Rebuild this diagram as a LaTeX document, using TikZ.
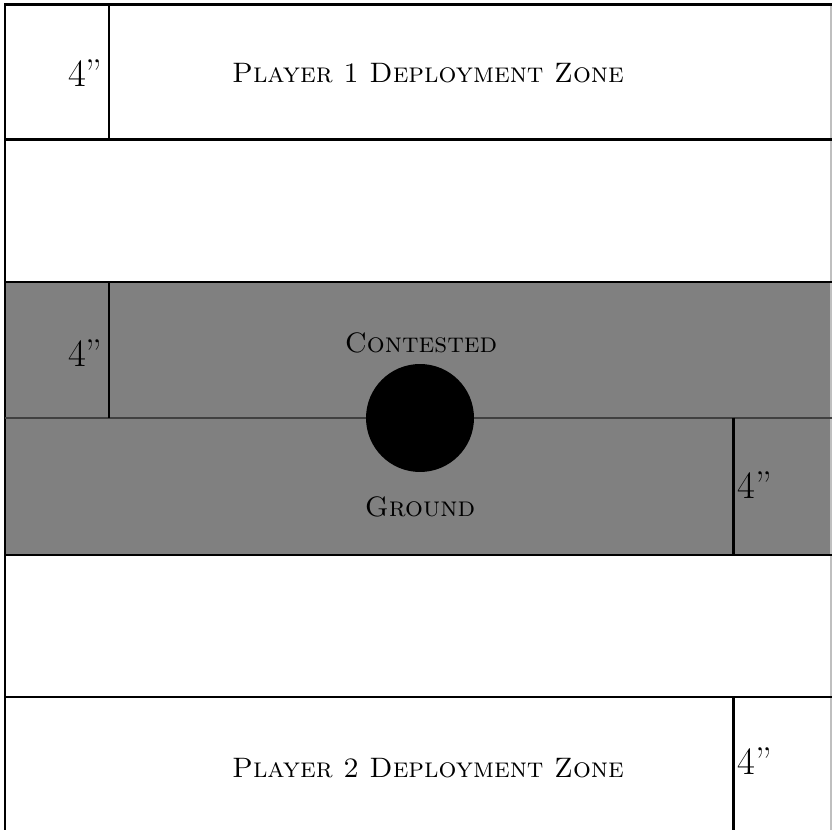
\documentclass[tikz,border=0pt]{standalone}
\usepackage{tikz}
\usetikzlibrary{positioning}
\tikzset{
  edgeline/.style={line width=1.7pt,black},
  midline/.style={line width=1.1pt,black!75},
  zonefill/.style={fill=black!50},
  zonelbl/.style={font=\fontsize{16}{18}\selectfont\scshape,inner sep=0pt},
  inchlbl/.style={font=\fontsize{22}{24}\selectfont,inner sep=0pt},
  objective/.style={circle,fill=black,minimum size=2.16cm,inner sep=0pt},
}
\begin{document}
\begin{tikzpicture}[x=0.02cm,y=-0.02cm]
  \useasboundingbox (0,0) rectangle (832,830);
  \fill[white] (0,0) rectangle (832,830);
  \fill[zonefill] (5,282) rectangle (832,555);
  \draw[black!25,line width=0.6pt] (831,5) -- (831,830);
  \draw[edgeline] (5,830) -- (5,5) -- (832,5);
  \draw[edgeline] (5,140) -- (832,140);
  \draw[edgeline] (5,282) -- (832,282);
  \draw[midline] (5,418) -- (832,418);
  \draw[edgeline] (5,555) -- (832,555);
  \draw[edgeline] (5,697) -- (832,697);
  \draw[edgeline] (109,5) -- (109,140);
  \draw[edgeline] (109,282) -- (109,418);
  \draw[edgeline] (733,418) -- (733,555);
  \draw[edgeline] (733,697) -- (733,830);
  \node[objective] (obj) at (420,418) {};
  \node[zonelbl] (p1) at (428,73) {Player 1 Deployment Zone};
  \node[zonelbl] (p2) at (428,768) {Player 2 Deployment Zone};
  \node[zonelbl] (cont) at (421,343) {Contested};
  \node[zonelbl] (grnd) at (420,507) {Ground};
  \node[inchlbl,anchor=east] (i1) at (103,73) {4''};
  \node[inchlbl,anchor=east] (i2) at (103,353) {4''};
  \node[inchlbl,anchor=west] (i3) at (737,485) {4''};
  \node[inchlbl,anchor=west] (i4) at (737,761) {4''};
\end{tikzpicture}
\end{document}
